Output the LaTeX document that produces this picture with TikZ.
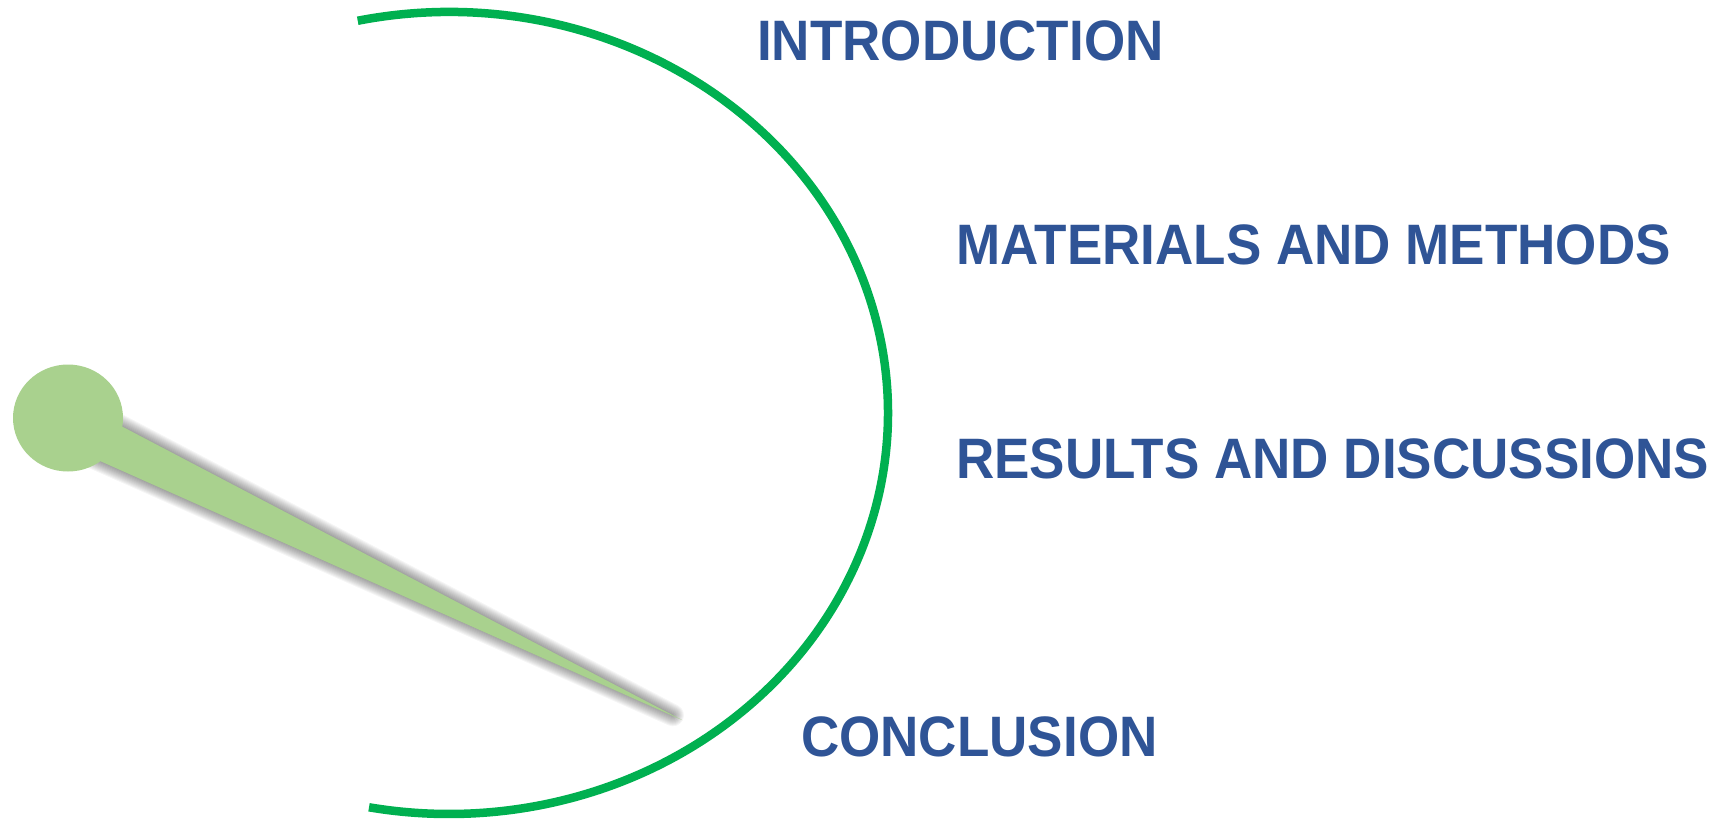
\documentclass[tikz,border=0pt]{standalone}
\usepackage{fontspec}
\usetikzlibrary{shapes.geometric,calc}
\newfontfamily\labelfont{Liberation Sans}[FakeStretch=0.93]
\definecolor{arcgreen}{RGB}{0,176,80}
\definecolor{needlegreen}{RGB}{169,209,142}
\definecolor{labelblue}{RGB}{47,84,150}
\begin{document}
\begin{tikzpicture}[x=1pt,y=-1pt,
  section/.style={anchor=base west,inner sep=0pt,text=labelblue,
    font=\labelfont\bfseries\fontsize{57pt}{60pt}\selectfont},
  dial/.style={draw=arcgreen,line width=8.5pt},
  needle/.style={fill=needlegreen},
  haze/.style={draw=black,draw opacity=0.04,line join=round},
  hubstyle/.style={ellipse,fill=needlegreen,inner sep=0pt,
    minimum width=110pt,minimum height=107pt}]
\useasboundingbox (0,0) rectangle (1719,819);

% dial arc, centre (449,413), radii 439 x 401
\draw[dial] (449,413) ++(102:439pt and 401pt)
  arc[start angle=102,end angle=-100.5,x radius=439pt,y radius=401pt];

% needle: edges run from the tip back into the hub
\coordinate (tip) at (682,720);
\coordinate (baseA) at ($(tip)!1.08!(123,427)$);
\coordinate (baseB) at ($(tip)!1.08!(100,461)$);
% soft shadow built from stacked translucent strokes
\foreach \w in {2,4,...,22}
  \draw[haze,line width=\w pt,shift={(2,-2.5)}]
    (baseA) -- ($(baseA)!0.985!(tip)$) -- (baseB) -- cycle;
\fill[needle] (baseA) -- (tip) -- (baseB) -- cycle;
\node[hubstyle] (hub) at (68,418) {};

% section labels
\node[section] (intro) at (757,60) {INTRODUCTION};
\node[section] (methods) at (956,264) {MATERIALS AND METHODS};
\node[section] (results) at (956,478) {RESULTS AND DISCUSSIONS};
\node[section] (concl) at (801,756) {CONCLUSION};
\end{tikzpicture}
\end{document}
